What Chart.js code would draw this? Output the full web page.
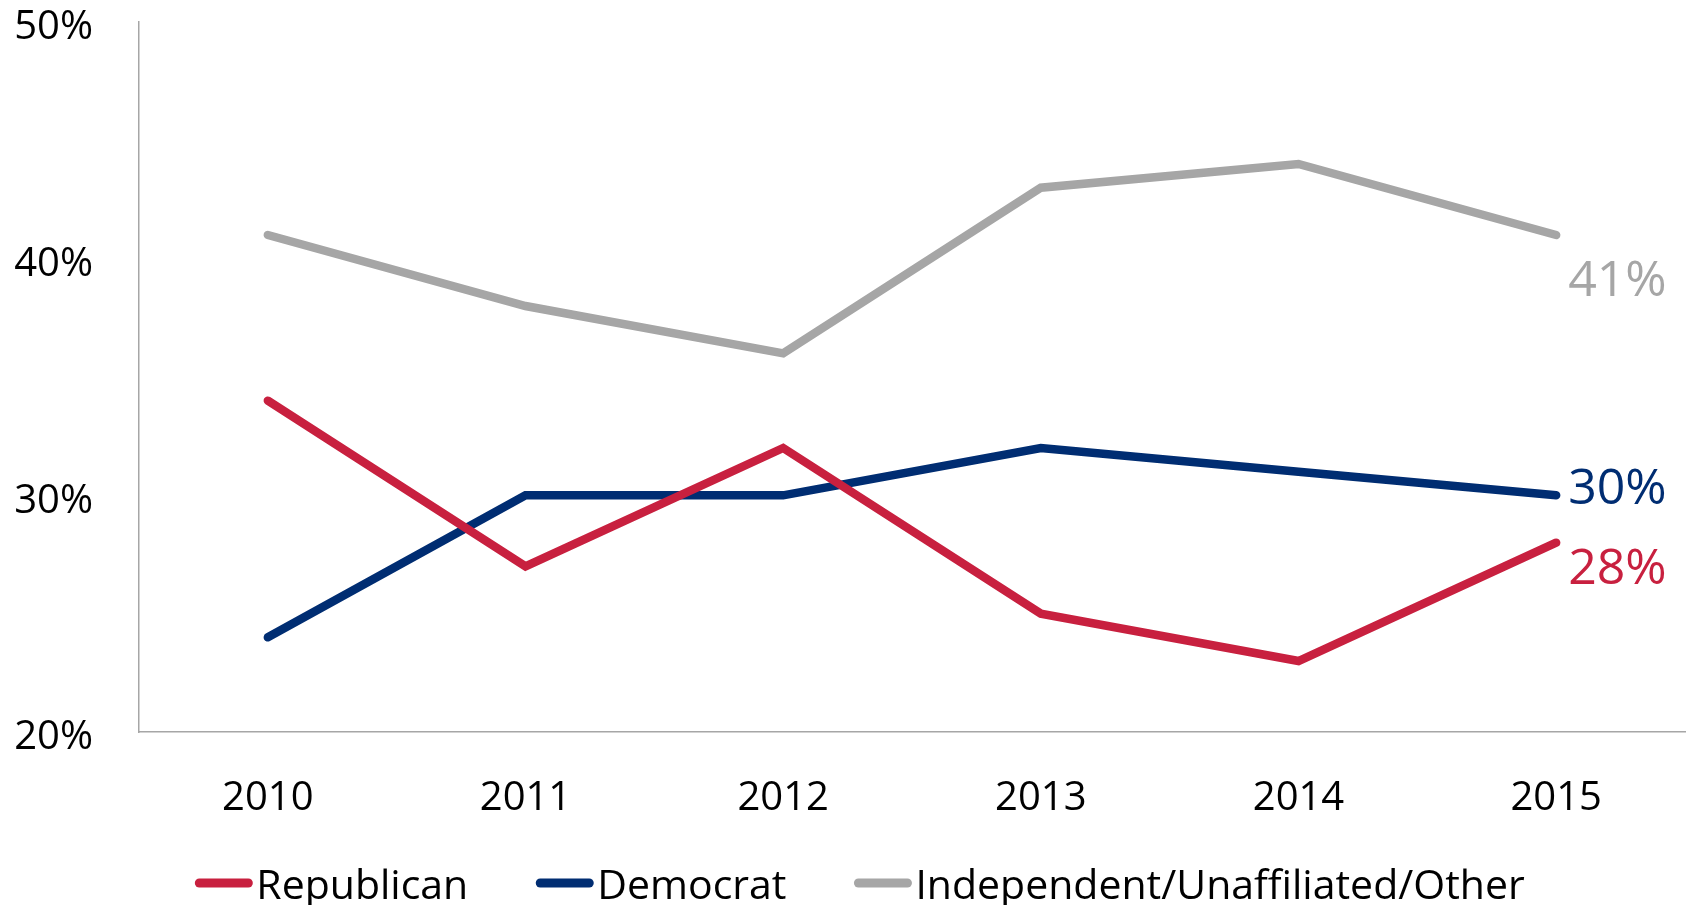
<!DOCTYPE html>
<html>
<head>
<meta charset="utf-8">
<script src="https://cdn.jsdelivr.net/npm/chart.js@4.4.0/dist/chart.umd.min.js"></script>
<style>
  html, body { margin: 0; padding: 0; background: #fff; }
  #wrap { width: 1694px; height: 905px; position: relative; }
</style>
</head>
<body>
<div id="wrap"><canvas id="chart"></canvas></div>
<script>
const years = ['2010', '2011', '2012', '2013', '2014', '2015'];
const republican = [34, 27, 32, 25, 23, 28];
const democrat = [24, 30, 30, 32, 31, 30];
const independent = [41, 38, 36, 43, 44, 41];
const yTicks = [20, 30, 40, 50];

const RED = '#C8203F';
const BLUE = '#002D72';
const GRAY = '#A6A6A6';
const FONT = '"Open Sans", sans-serif';

// last value label next to each line's final point
const endLabels = {
  id: 'endLabels',
  afterDatasetsDraw(chart) {
    const ctx = chart.ctx;
    const offsets = [27, -6, 47];
    ctx.save();
    ctx.font = '50px ' + FONT;
    ctx.textAlign = 'left';
    ctx.textBaseline = 'middle';
    chart.data.datasets.forEach((ds, i) => {
      const pts = chart.getDatasetMeta(i).data;
      const p = pts[pts.length - 1];
      ctx.fillStyle = ds.borderColor;
      ctx.fillText(ds.data[ds.data.length - 1] + '%', p.x + 12, p.y + offsets[i]);
    });
    ctx.restore();
  }
};

// legend at the bottom, drawn by hand to keep the tight marker/text spacing
const bottomLegend = {
  id: 'bottomLegend',
  afterDraw(chart) {
    const ctx = chart.ctx;
    const markW = 57, gap = 4, itemGap = 68, y = 887;
    ctx.save();
    ctx.font = '41px ' + FONT;
    ctx.textBaseline = 'middle';
    const items = chart.data.datasets.map(ds => ({
      text: ds.label, color: ds.borderColor, w: ctx.measureText(ds.label).width
    }));
    let total = 0;
    items.forEach((it, i) => { total += markW + gap + it.w + (i ? itemGap : 0); });
    let x = 860 - total / 2;
    items.forEach(it => {
      ctx.strokeStyle = it.color;
      ctx.lineWidth = 9;
      ctx.lineCap = 'round';
      ctx.beginPath();
      ctx.moveTo(x + 4, y - 4);
      ctx.lineTo(x + markW - 4, y - 4);
      ctx.stroke();
      ctx.fillStyle = '#000';
      ctx.fillText(it.text, x + markW + gap, y);
      x += markW + gap + it.w + itemGap;
    });
    ctx.restore();
  }
};

function series(label, data, color) {
  return {
    label: label,
    data: data,
    borderColor: color,
    backgroundColor: color,
    borderWidth: 8.5,
    pointRadius: 0,
    pointHoverRadius: 0,
    borderCapStyle: 'round',
    borderJoinStyle: 'miter',
    fill: false,
    tension: 0
  };
}

new Chart(document.getElementById('chart'), {
  type: 'line',
  data: {
    labels: years,
    datasets: [
      series('Republican', republican, RED),
      series('Democrat', democrat, BLUE),
      series('Independent/Unaffiliated/Other', independent, GRAY)
    ]
  },
  options: {
    responsive: true,
    maintainAspectRatio: false,
    animation: false,
    layout: { padding: { top: 22, right: 9, left: 0, bottom: 0 } },
    scales: {
      x: {
        offset: true,
        grid: { display: false, drawTicks: false },
        border: { display: true, color: GRAY, width: 1.5 },
        ticks: { color: '#000', font: { family: FONT, size: 40 }, padding: 43, maxRotation: 0 },
        afterFit(scale) {
          scale.height = 173;
          scale.paddingLeft = 0;
          scale.paddingRight = 0;
        }
      },
      y: {
        min: 20,
        max: 50,
        grid: { display: false, drawTicks: false },
        border: { display: true, color: GRAY, width: 1.5 },
        afterBuildTicks(scale) { scale.ticks = yTicks.map(v => ({ value: v })); },
        ticks: {
          color: '#000',
          font: { family: FONT, size: 40 },
          padding: 46,
          labelOffset: 6,
          callback: v => v + '%'
        },
        afterFit(scale) {
          scale.width = 139;
          scale.paddingTop = 0;
          scale.paddingBottom = 0;
        }
      }
    },
    plugins: {
      legend: { display: false },
      tooltip: { enabled: false }
    }
  },
  plugins: [endLabels, bottomLegend]
});
</script>
</body>
</html>
